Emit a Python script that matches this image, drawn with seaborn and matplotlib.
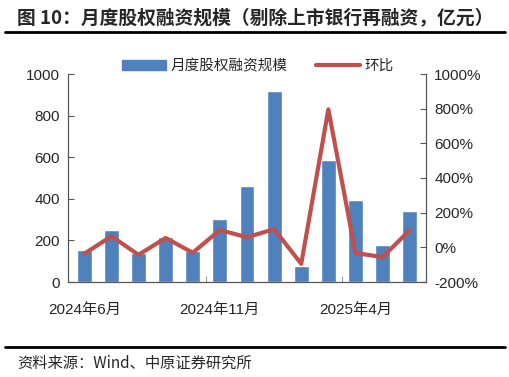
import seaborn as sns
import matplotlib.pyplot as plt
import numpy as np
from matplotlib.lines import Line2D

# 月度数据
months = ['2024年6月', '2024年7月', '2024年8月', '2024年9月', '2024年10月',
          '2024年11月', '2024年12月', '2025年1月', '2025年2月', '2025年3月',
          '2025年4月', '2025年5月', '2025年6月']
scale = [156, 252, 140, 217, 150, 301, 461, 916, 76, 588, 392, 177, 341]
mom = [-37, 64, -43, 54, -31, 100, 58, 105, -95, 796, -33, -56, 99]
tick_labels = ['2024年6月', '2024年11月', '2025年4月']

bar_color = '#4F81BD'
line_color = '#C0504D'

sns.set_theme(style='white')
plt.rcParams['font.family'] = ['Liberation Sans', 'Noto Sans CJK SC', 'DejaVu Sans']

fig = plt.figure(figsize=(5.1, 3.77), dpi=100)
ax = fig.add_axes([68 / 510, 1 - 282 / 377, (426 - 68) / 510, (282 - 74) / 377])

sns.barplot(x=months, y=scale, color=bar_color, width=0.55, saturation=1, ax=ax)
ax2 = ax.twinx()
sns.lineplot(x=np.arange(len(months)), y=mom, color=line_color, linewidth=3, ax=ax2)

ax.set_ylim(0, 1000)
ax.set_yticks(range(0, 1001, 200))
ax2.set_ylim(-200, 1000)
ax2.set_yticks(range(-200, 1001, 200))
ax2.set_yticklabels([f'{v}%' for v in range(-200, 1001, 200)])
ax.set_xlim(-0.6, len(months) - 0.4)

ax.set_xticks([0, 5, 10])
ax.set_xticklabels(tick_labels)
ax.set_xticks([4.5, 9.5], minor=True)
for a in (ax, ax2):
    a.spines['top'].set_visible(False)
    for s in ('left', 'right', 'bottom'):
        a.spines[s].set_color('#555555')
        a.spines[s].set_linewidth(0.8)
    a.grid(False)
ax.tick_params(axis='y', direction='in', length=4, width=0.8, color='#555555', labelsize=11, pad=6, left=True)
ax2.tick_params(axis='y', direction='in', length=4, width=0.8, color='#555555', labelsize=11, pad=6, right=True)
ax.tick_params(axis='x', which='major', length=0, labelsize=11, pad=15)
ax.tick_params(axis='x', which='minor', direction='in', length=4, width=0.8, color='#999999', bottom=True)
ax.set_xlabel('')
ax.set_ylabel('')
ax2.set_ylabel('')

handles = [plt.Rectangle((0, 0), 1, 1, color=bar_color), Line2D([0], [0], color=line_color, linewidth=3)]
fig.legend(handles, ['月度股权融资规模', '环比'], loc='center', bbox_to_anchor=(258 / 510, 1 - 66 / 377),
           ncol=2, frameon=False, fontsize=10.5, handlelength=3.0, columnspacing=2.0, handletextpad=0.3)

fig.text(17 / 510, 1 - 18 / 377, '图 10：月度股权融资规模（剔除上市银行再融资，亿元）',
         fontsize=13.5, fontweight='bold', va='center', ha='left',
         family=['Noto Sans CJK SC', 'DejaVu Sans'])
fig.add_artist(Line2D([5 / 510, 505 / 510], [1 - 32 / 377, 1 - 32 / 377], color='black', linewidth=2))
fig.add_artist(Line2D([5 / 510, 505 / 510], [1 - 347 / 377, 1 - 347 / 377], color='black', linewidth=2))
fig.text(17 / 510, 1 - 363 / 377, '资料来源：Wind、中原证券研究所', fontsize=11, va='center', ha='left',
         family=['Noto Sans CJK SC', 'DejaVu Sans'])

fig.savefig('out.png', dpi=100)
